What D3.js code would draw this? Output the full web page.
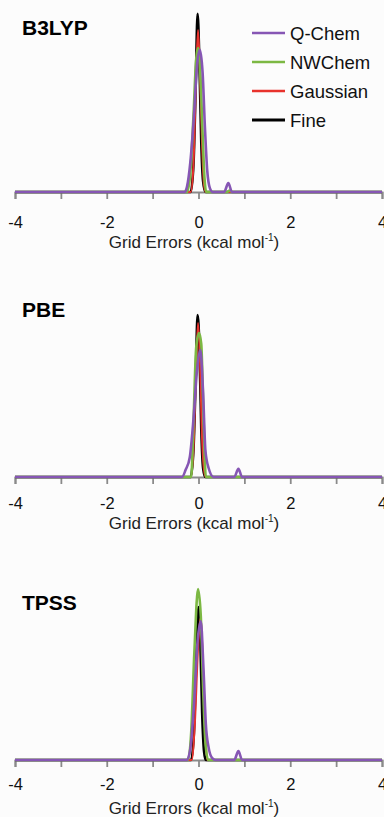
<!DOCTYPE html>
<html>
<head>
<meta charset="utf-8">
<script src="https://cdn.jsdelivr.net/npm/d3@7"></script>
<style>
html,body{margin:0;padding:0;background:#fcfcfc;}
svg{display:block;}
</style>
</head>
<body>
<svg id="chart" width="384" height="817"></svg>
<script>
// ---------- DATA ----------
const panelTitles = ["B3LYP", "PBE", "TPSS"];
const seriesNames = ["Q-Chem", "NWChem", "Gaussian", "Fine"];
const xTicks = [-4, -3, -2, -1, 0, 1, 2, 3, 4];
const tickLabels = ["-4", "", "-2", "", "0", "", "2", "", "4"];

// B3LYP  [error, relative density]
const b3lypFine = [[-4,0],[-0.17,0],[-0.11,0.15],[-0.06,0.6],[-0.02,0.99],[0.02,0.72],[0.06,0.28],[0.1,0.06],[0.15,0],[4,0]];
const b3lypGaussian = [[-4,0],[-0.17,0],[-0.11,0.15],[-0.05,0.66],[-0.01,0.9],[0.03,0.68],[0.08,0.25],[0.12,0.04],[0.16,0],[4,0]];
const b3lypNWChem = [[-4,0],[-0.25,0],[-0.18,0.1],[-0.11,0.42],[-0.05,0.74],[-0.01,0.8],[0.04,0.66],[0.09,0.32],[0.13,0.08],[0.17,0],[0.62,0],[0.68,0.008],[0.74,0],[4,0]];
const b3lypQChem = [[-4,0],[-0.3,0],[-0.25,0.03],[-0.18,0.16],[-0.1,0.42],[-0.03,0.71],[0.03,0.79],[0.09,0.66],[0.14,0.36],[0.19,0.12],[0.25,0.02],[0.31,0],[0.56,0],[0.65,0.05],[0.73,0],[4,0]];

// PBE
const pbeFine = [[-4,0],[-0.17,0],[-0.11,0.15],[-0.06,0.56],[-0.02,0.9],[0.02,0.72],[0.06,0.27],[0.1,0.05],[0.15,0],[4,0]];
const pbeGaussian = [[-4,0],[-0.17,0],[-0.11,0.15],[-0.05,0.62],[-0.01,0.855],[0.03,0.67],[0.07,0.27],[0.12,0.04],[0.16,0],[4,0]];
const pbeNWChem = [[-4,0],[-0.16,0],[-0.11,0.3],[-0.05,0.72],[0.01,0.8],[0.06,0.74],[0.11,0.33],[0.16,0],[4,0]];
const pbeQChem = [[-4,0],[-0.36,0],[-0.28,0.04],[-0.19,0.11],[-0.11,0.32],[-0.03,0.6],[0.04,0.705],[0.1,0.47],[0.15,0.15],[0.22,0.05],[0.33,0],[0.78,0],[0.87,0.045],[0.95,0],[4,0]];

// TPSS
const tpssFine = [[-4,0],[-0.16,0],[-0.1,0.15],[-0.04,0.62],[0.0,0.85],[0.04,0.66],[0.08,0.26],[0.12,0.05],[0.16,0],[4,0]];
const tpssGaussian = [[-4,0],[-0.15,0],[-0.08,0.2],[-0.01,0.62],[0.05,0.79],[0.1,0.5],[0.15,0.15],[0.19,0],[4,0]];
const tpssNWChem = [[-4,0],[-0.23,0],[-0.16,0.15],[-0.09,0.6],[-0.01,0.95],[0.05,0.8],[0.1,0.4],[0.15,0.1],[0.21,0],[4,0]];
const tpssQChem = [[-4,0],[-0.26,0],[-0.18,0.06],[-0.1,0.3],[-0.02,0.66],[0.05,0.77],[0.11,0.5],[0.16,0.2],[0.22,0.07],[0.3,0.01],[0.37,0],[0.78,0],[0.87,0.05],[0.95,0],[4,0]];

const panelData = [
  [b3lypQChem, b3lypNWChem, b3lypGaussian, b3lypFine],
  [pbeQChem, pbeNWChem, pbeGaussian, pbeFine],
  [tpssQChem, tpssNWChem, tpssGaussian, tpssFine]
];

// ---------- STYLE / LAYOUT ----------
const colors = ["#8656b4", "#7cb843", "#e8322c", "#000000"];
const widths = [2.6, 2.6, 2.0, 2.6];
const baselines = [192, 477, 760];
const titleY = [35, 317, 610];
const tickLabelOffset = [24, 20, 18];
const axisLabelOffset = [56, 52, 54];
const plotH = 180;
const font = "Arial, 'Liberation Sans', Helvetica, sans-serif";

const svg = d3.select("#chart");
const x = d3.scaleLinear().domain([-4, 4]).range([15, 382]);

panelData.forEach((series, p) => {
  const base = baselines[p];
  const y = d3.scaleLinear().domain([0, 1]).range([base, base - plotH]);
  const g = svg.append("g");

  // axis
  const axis = d3.axisBottom(x).tickValues(xTicks).tickSize(7)
    .tickFormat((d, i) => tickLabels[i]);
  const ag = g.append("g").attr("transform", `translate(0,${base})`).call(axis);
  ag.select(".domain").attr("stroke", "#8a8a8a").attr("stroke-width", 2);
  ag.selectAll(".tick line").attr("stroke", "#8a8a8a").attr("stroke-width", 1.8);
  ag.selectAll(".tick text").attr("font-family", font).attr("font-size", 16.5)
    .attr("fill", "#111").attr("dy", "0.71em").attr("y", tickLabelOffset[p]);

  // axis label
  const lab = g.append("text").attr("x", 194).attr("y", base + axisLabelOffset[p])
    .attr("text-anchor", "middle").attr("font-family", font)
    .attr("font-size", 17).attr("fill", "#222");
  lab.append("tspan").text("Grid Errors (kcal mol");
  lab.append("tspan").attr("font-size", 10).attr("dy", -7).text("-1");
  lab.append("tspan").attr("dy", 7).text(")");

  // curves: draw Fine first, Q-Chem last (on top)
  const line = d3.line().x(d => x(d[0])).y(d => y(d[1])).curve(d3.curveMonotoneX);
  [3, 2, 1, 0].forEach(i => {
    g.append("path").datum(series[i]).attr("d", line)
      .attr("fill", "none").attr("stroke", colors[i]).attr("stroke-width", widths[i])
      .attr("stroke-linejoin", "round");
  });

  // title
  g.append("text").attr("x", 22).attr("y", titleY[p]).attr("font-family", font)
    .attr("font-weight", "bold").attr("font-size", 21).attr("fill", "#000")
    .text(panelTitles[p]);
});

// legend (top panel)
const lg = svg.append("g");
seriesNames.forEach((name, i) => {
  const ly = 33 + i * 29;
  lg.append("line").attr("x1", 252).attr("x2", 285).attr("y1", ly).attr("y2", ly)
    .attr("stroke", colors[i]).attr("stroke-width", i === 3 ? 3 : 2.6);
  lg.append("text").attr("x", 290).attr("y", ly + 6.5).attr("font-family", font)
    .attr("font-size", 18.5).attr("fill", "#111").text(name);
});
</script>
</body>
</html>
